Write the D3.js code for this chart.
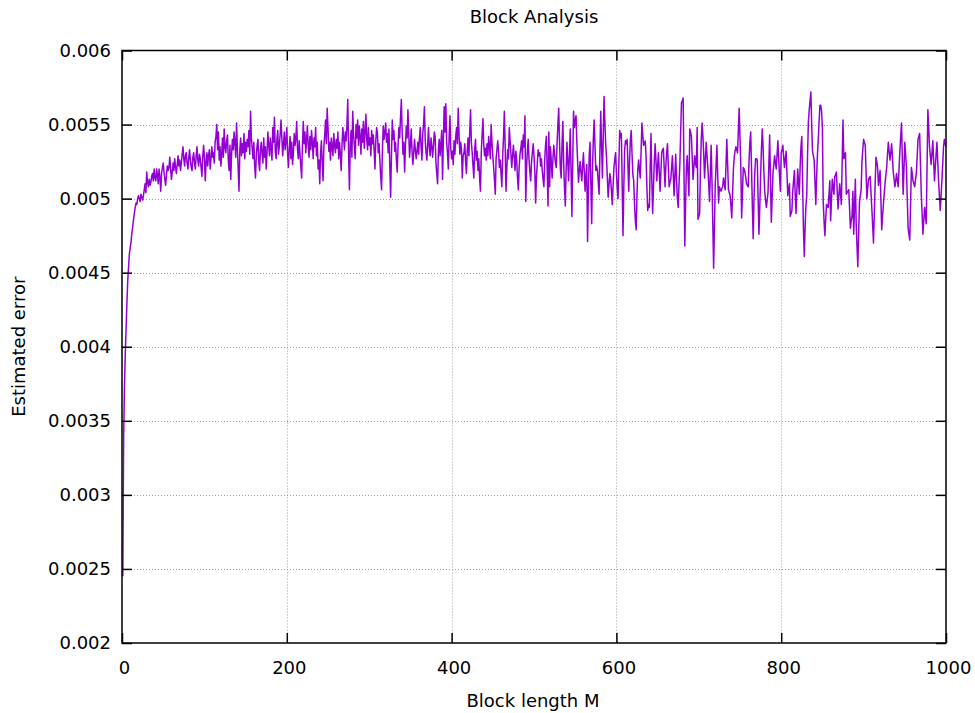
<!DOCTYPE html>
<html>
<head>
<meta charset="utf-8">
<script src="https://cdn.jsdelivr.net/npm/d3@7"></script>
<style>
  html, body { margin: 0; padding: 0; background: #fff; }
  svg { display: block; font-family: "DejaVu Sans", sans-serif; }
</style>
</head>
<body>
<svg id="chart" width="975" height="713"></svg>
<script>
// Labels
const chartTitle = "Block Analysis";
const xLabel = "Block length M";
const yLabel = "Estimated error";

// Axis ticks
const xTicks = [0, 200, 400, 600, 800, 1000];
const yTicks = [0.002, 0.0025, 0.003, 0.0035, 0.004, 0.0045, 0.005, 0.0055, 0.006];
const yTickLabels = ["0.002", "0.0025", "0.003", "0.0035", "0.004", "0.0045", "0.005", "0.0055", "0.006"];

// Estimated error for block lengths M = 1 .. 1000 (20 values per row)
const estimatedError = [
  0.00245,0.00340,0.00373,0.00396,0.00413,0.00430,0.00445,0.00454,0.00463,0.00467,0.00471,0.00477,0.00481,0.00486,0.00490,0.00494,0.00497,0.00496,0.00500,0.00502,
  0.00500,0.00498,0.00503,0.00501,0.00499,0.00502,0.00506,0.00510,0.00504,0.00518,0.00511,0.00508,0.00513,0.00509,0.00511,0.00515,0.00517,0.00512,0.00520,0.00514,
  0.00512,0.00520,0.00516,0.00510,0.00520,0.00514,0.00505,0.00517,0.00521,0.00524,0.00518,0.00513,0.00509,0.00516,0.00522,0.00519,0.00521,0.00528,0.00520,0.00513,
  0.00518,0.00524,0.00519,0.00527,0.00521,0.00517,0.00523,0.00529,0.00522,0.00526,0.00519,0.00524,0.00530,0.00535,0.00527,0.00522,0.00529,0.00531,0.00524,0.00520,
  0.00527,0.00533,0.00526,0.00521,0.00519,0.00528,0.00531,0.00524,0.00520,0.00529,0.00535,0.00526,0.00522,0.00530,0.00527,0.00521,0.00515,0.00528,0.00536,0.00529,
  0.00512,0.00524,0.00531,0.00522,0.00529,0.00533,0.00520,0.00527,0.00535,0.00528,0.00531,0.00524,0.00538,0.00542,0.00550,0.00533,0.00545,0.00526,0.00535,0.00522,
  0.00530,0.00541,0.00528,0.00547,0.00535,0.00531,0.00539,0.00543,0.00526,0.00519,0.00536,0.00513,0.00530,0.00540,0.00533,0.00545,0.00538,0.00528,0.00551,0.00534,
  0.00520,0.00505,0.00533,0.00541,0.00529,0.00537,0.00531,0.00544,0.00527,0.00538,0.00532,0.00540,0.00535,0.00546,0.00530,0.00559,0.00541,0.00534,0.00527,0.00538,
  0.00522,0.00514,0.00529,0.00536,0.00540,0.00525,0.00519,0.00533,0.00538,0.00530,0.00524,0.00541,0.00528,0.00535,0.00520,0.00531,0.00545,0.00536,0.00529,0.00541,
  0.00534,0.00526,0.00548,0.00538,0.00555,0.00532,0.00527,0.00540,0.00546,0.00530,0.00536,0.00544,0.00553,0.00541,0.00529,0.00537,0.00545,0.00533,0.00539,0.00548,
  0.00530,0.00521,0.00534,0.00542,0.00527,0.00538,0.00523,0.00531,0.00544,0.00536,0.00541,0.00552,0.00533,0.00527,0.00539,0.00530,0.00522,0.00514,0.00536,0.00552,
  0.00537,0.00545,0.00531,0.00540,0.00549,0.00535,0.00528,0.00542,0.00533,0.00546,0.00538,0.00527,0.00541,0.00535,0.00548,0.00529,0.00538,0.00520,0.00526,0.00510,
  0.00531,0.00539,0.00524,0.00512,0.00535,0.00543,0.00553,0.00537,0.00561,0.00548,0.00532,0.00538,0.00526,0.00541,0.00535,0.00529,0.00544,0.00536,0.00531,0.00540,
  0.00534,0.00545,0.00527,0.00538,0.00530,0.00519,0.00536,0.00548,0.00541,0.00533,0.00545,0.00539,0.00550,0.00567,0.00531,0.00506,0.00537,0.00546,0.00528,0.00559,
  0.00544,0.00535,0.00527,0.00550,0.00541,0.00553,0.00536,0.00549,0.00542,0.00530,0.00547,0.00538,0.00552,0.00534,0.00545,0.00557,0.00540,0.00533,0.00548,0.00536,
  0.00541,0.00529,0.00546,0.00537,0.00543,0.00533,0.00520,0.00539,0.00548,0.00544,0.00531,0.00537,0.00525,0.00515,0.00506,0.00532,0.00549,0.00540,0.00545,0.00551,
  0.00538,0.00544,0.00531,0.00547,0.00522,0.00501,0.00529,0.00553,0.00540,0.00546,0.00532,0.00538,0.00526,0.00518,0.00535,0.00548,0.00541,0.00555,0.00567,0.00545,
  0.00530,0.00538,0.00518,0.00536,0.00549,0.00541,0.00560,0.00544,0.00528,0.00536,0.00547,0.00532,0.00523,0.00531,0.00540,0.00533,0.00527,0.00532,0.00538,0.00530,
  0.00541,0.00548,0.00535,0.00526,0.00544,0.00550,0.00562,0.00539,0.00531,0.00526,0.00537,0.00548,0.00534,0.00529,0.00541,0.00535,0.00528,0.00536,0.00545,0.00542,
  0.00524,0.00517,0.00510,0.00533,0.00540,0.00529,0.00537,0.00546,0.00513,0.00540,0.00562,0.00545,0.00564,0.00538,0.00531,0.00520,0.00541,0.00556,0.00534,0.00527,
  0.00532,0.00523,0.00539,0.00530,0.00542,0.00548,0.00537,0.00561,0.00544,0.00530,0.00538,0.00533,0.00514,0.00529,0.00531,0.00537,0.00525,0.00517,0.00533,0.00541,
  0.00529,0.00545,0.00560,0.00538,0.00531,0.00522,0.00514,0.00533,0.00540,0.00526,0.00532,0.00519,0.00527,0.00514,0.00505,0.00531,0.00543,0.00554,0.00537,0.00529,
  0.00534,0.00526,0.00537,0.00529,0.00542,0.00535,0.00527,0.00550,0.00538,0.00529,0.00521,0.00513,0.00503,0.00527,0.00533,0.00539,0.00532,0.00521,0.00526,0.00517,
  0.00508,0.00529,0.00541,0.00559,0.00536,0.00505,0.00520,0.00533,0.00527,0.00548,0.00539,0.00530,0.00521,0.00529,0.00536,0.00528,0.00519,0.00532,0.00526,0.00514,
  0.00506,0.00521,0.00530,0.00534,0.00539,0.00527,0.00543,0.00535,0.00556,0.00498,0.00521,0.00533,0.00540,0.00526,0.00518,0.00512,0.00525,0.00531,0.00537,0.00529,
  0.00518,0.00497,0.00515,0.00524,0.00533,0.00529,0.00531,0.00522,0.00527,0.00519,0.00513,0.00508,0.00526,0.00536,0.00542,0.00520,0.00495,0.00545,0.00508,0.00535,
  0.00525,0.00514,0.00527,0.00536,0.00530,0.00524,0.00521,0.00537,0.00550,0.00561,0.00538,0.00520,0.00514,0.00536,0.00552,0.00524,0.00508,0.00495,0.00520,0.00538,
  0.00525,0.00512,0.00530,0.00547,0.00518,0.00488,0.00525,0.00559,0.00548,0.00552,0.00556,0.00538,0.00524,0.00511,0.00519,0.00525,0.00518,0.00512,0.00522,0.00531,
  0.00518,0.00505,0.00515,0.00523,0.00471,0.00505,0.00529,0.00538,0.00510,0.00483,0.00520,0.00540,0.00553,0.00536,0.00519,0.00522,0.00519,0.00511,0.00503,0.00531,
  0.00559,0.00536,0.00514,0.00541,0.00569,0.00552,0.00537,0.00528,0.00514,0.00501,0.00509,0.00517,0.00513,0.00505,0.00496,0.00509,0.00521,0.00526,0.00531,0.00518,
  0.00507,0.00500,0.00524,0.00546,0.00541,0.00544,0.00510,0.00475,0.00508,0.00533,0.00539,0.00537,0.00540,0.00523,0.00505,0.00526,0.00540,0.00546,0.00530,0.00516,
  0.00512,0.00496,0.00485,0.00479,0.00503,0.00520,0.00526,0.00519,0.00514,0.00533,0.00551,0.00543,0.00536,0.00537,0.00539,0.00529,0.00508,0.00492,0.00496,0.00494,
  0.00522,0.00544,0.00512,0.00490,0.00508,0.00525,0.00537,0.00526,0.00512,0.00522,0.00531,0.00518,0.00505,0.00518,0.00531,0.00533,0.00534,0.00521,0.00508,0.00522,
  0.00531,0.00537,0.00522,0.00508,0.00511,0.00513,0.00521,0.00529,0.00516,0.00502,0.00516,0.00530,0.00512,0.00500,0.00494,0.00510,0.00523,0.00545,0.00565,0.00566,
  0.00568,0.00520,0.00468,0.00498,0.00522,0.00529,0.00515,0.00502,0.00547,0.00545,0.00542,0.00528,0.00513,0.00521,0.00529,0.00524,0.00521,0.00548,0.00486,0.00488,
  0.00490,0.00520,0.00540,0.00551,0.00542,0.00530,0.00514,0.00526,0.00538,0.00529,0.00521,0.00510,0.00498,0.00517,0.00536,0.00512,0.00483,0.00453,0.00482,0.00510,
  0.00523,0.00536,0.00515,0.00497,0.00508,0.00506,0.00505,0.00507,0.00508,0.00514,0.00510,0.00506,0.00523,0.00540,0.00523,0.00506,0.00504,0.00502,0.00495,0.00487,
  0.00503,0.00520,0.00528,0.00532,0.00535,0.00533,0.00531,0.00546,0.00561,0.00541,0.00521,0.00487,0.00504,0.00521,0.00520,0.00518,0.00514,0.00510,0.00509,0.00508,
  0.00526,0.00538,0.00545,0.00520,0.00495,0.00473,0.00500,0.00518,0.00527,0.00527,0.00526,0.00500,0.00476,0.00494,0.00515,0.00533,0.00547,0.00535,0.00518,0.00505,
  0.00499,0.00494,0.00499,0.00504,0.00523,0.00543,0.00513,0.00484,0.00500,0.00517,0.00523,0.00529,0.00524,0.00520,0.00530,0.00539,0.00527,0.00515,0.00505,0.00531,
  0.00533,0.00536,0.00528,0.00521,0.00527,0.00532,0.00517,0.00502,0.00506,0.00510,0.00488,0.00490,0.00492,0.00505,0.00512,0.00519,0.00503,0.00490,0.00505,0.00520,
  0.00511,0.00503,0.00522,0.00535,0.00542,0.00510,0.00480,0.00461,0.00481,0.00495,0.00502,0.00530,0.00552,0.00560,0.00566,0.00572,0.00550,0.00532,0.00529,0.00526,
  0.00511,0.00496,0.00515,0.00530,0.00540,0.00552,0.00563,0.00563,0.00559,0.00548,0.00498,0.00485,0.00475,0.00486,0.00496,0.00495,0.00494,0.00503,0.00512,0.00485,
  0.00499,0.00513,0.00508,0.00503,0.00515,0.00516,0.00518,0.00505,0.00493,0.00502,0.00510,0.00503,0.00496,0.00525,0.00553,0.00527,0.00529,0.00531,0.00503,0.00504,
  0.00505,0.00506,0.00493,0.00480,0.00485,0.00489,0.00505,0.00476,0.00495,0.00513,0.00483,0.00468,0.00454,0.00476,0.00498,0.00502,0.00506,0.00525,0.00533,0.00540,
  0.00538,0.00536,0.00518,0.00500,0.00507,0.00513,0.00514,0.00515,0.00504,0.00493,0.00482,0.00470,0.00490,0.00509,0.00528,0.00525,0.00521,0.00509,0.00514,0.00519,
  0.00499,0.00479,0.00488,0.00496,0.00503,0.00510,0.00516,0.00521,0.00530,0.00538,0.00532,0.00526,0.00531,0.00537,0.00528,0.00518,0.00513,0.00508,0.00512,0.00517,
  0.00512,0.00508,0.00520,0.00532,0.00542,0.00551,0.00527,0.00503,0.00520,0.00538,0.00530,0.00521,0.00500,0.00480,0.00476,0.00472,0.00496,0.00521,0.00517,0.00512,
  0.00510,0.00508,0.00513,0.00517,0.00528,0.00540,0.00542,0.00544,0.00524,0.00503,0.00490,0.00476,0.00485,0.00494,0.00489,0.00483,0.00521,0.00560,0.00548,0.00535,
  0.00529,0.00523,0.00531,0.00539,0.00526,0.00512,0.00521,0.00530,0.00538,0.00525,0.00512,0.00502,0.00492,0.00502,0.00512,0.00523,0.00535,0.00540,0.00537,0.00535
];
const blockLength = estimatedError.map((_, i) => i + 1);

const svg = d3.select("#chart");
const plot = { left: 122, right: 946, top: 50.5, bottom: 643 };

const x = d3.scaleLinear().domain([0, 1000]).range([plot.left, plot.right]);
const y = d3.scaleLinear().domain([0.002, 0.006]).range([plot.bottom, plot.top]);

// Dotted grid
const grid = svg.append("g")
  .attr("stroke", "#a0a0a0")
  .attr("stroke-width", 1)
  .attr("stroke-dasharray", "1,2");
grid.selectAll("line.gx").data(xTicks.slice(1, -1)).join("line")
  .attr("x1", d => Math.round(x(d)) + 0.5).attr("x2", d => Math.round(x(d)) + 0.5)
  .attr("y1", plot.top).attr("y2", plot.bottom);
grid.selectAll("line.gy").data(yTicks.slice(1, -1)).join("line")
  .attr("x1", plot.left).attr("x2", plot.right)
  .attr("y1", d => Math.round(y(d)) + 0.5).attr("y2", d => Math.round(y(d)) + 0.5);

// Data line
svg.append("defs").append("clipPath").attr("id", "clip")
  .append("rect")
  .attr("x", plot.left).attr("y", plot.top)
  .attr("width", plot.right - plot.left).attr("height", plot.bottom - plot.top);

const line = d3.line()
  .x((d, i) => x(blockLength[i]))
  .y(d => y(d));

svg.append("path")
  .datum(estimatedError)
  .attr("clip-path", "url(#clip)")
  .attr("fill", "none")
  .attr("stroke", "#9400d3")
  .attr("stroke-width", 1.5)
  .attr("stroke-linejoin", "round")
  .attr("d", line);

// Axes with inward ticks on all four sides
function styleAxis(g) {
  g.attr("font-family", null).attr("font-size", null);
  g.select(".domain").remove();
  g.selectAll(".tick line").attr("stroke", "#000").attr("stroke-width", 1.5);
  g.selectAll(".tick text").attr("fill", "#000").style("font-size", "18px")
    .style("font-family", "'DejaVu Sans', sans-serif");
}

svg.append("g")
  .attr("transform", `translate(0,${plot.bottom})`)
  .call(d3.axisBottom(x).tickValues(xTicks).tickFormat(d3.format("d"))
    .tickSize(-10).tickPadding(18))
  .call(styleAxis)
  .selectAll(".tick text").attr("dx", 2);

svg.append("g")
  .attr("transform", `translate(0,${plot.top})`)
  .call(d3.axisTop(x).tickValues(xTicks).tickFormat("").tickSize(-10))
  .call(styleAxis);

svg.append("g")
  .attr("transform", `translate(${plot.left},0)`)
  .call(d3.axisLeft(y).tickValues(yTicks).tickFormat((d, i) => yTickLabels[i])
    .tickSize(-10).tickPadding(11))
  .call(styleAxis);

svg.append("g")
  .attr("transform", `translate(${plot.right},0)`)
  .call(d3.axisRight(y).tickValues(yTicks).tickFormat("").tickSize(-10))
  .call(styleAxis);

// Border
svg.append("rect")
  .attr("x", plot.left).attr("y", plot.top)
  .attr("width", plot.right - plot.left).attr("height", plot.bottom - plot.top)
  .attr("fill", "none").attr("stroke", "#000").attr("stroke-width", 1.5);

// Title and axis labels
svg.append("text")
  .attr("x", (plot.left + plot.right) / 2).attr("y", 23)
  .attr("text-anchor", "middle").style("font-size", "18px")
  .text(chartTitle);

svg.append("text")
  .attr("x", (plot.left + plot.right) / 2 - 1).attr("y", 707)
  .attr("text-anchor", "middle").style("font-size", "18px")
  .text(xLabel);

svg.append("text")
  .attr("transform", `translate(25,${(plot.top + plot.bottom) / 2}) rotate(-90)`)
  .attr("text-anchor", "middle").style("font-size", "18px")
  .text(yLabel);
</script>
</body>
</html>
